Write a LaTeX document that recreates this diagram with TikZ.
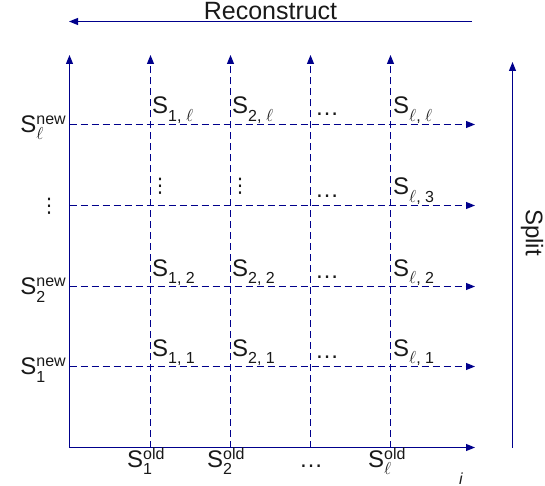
\documentclass[tikz,border=0pt]{standalone}
\usepackage{fontspec}
\setmainfont{Liberation Sans}
\newfontfamily\djv{DejaVu Sans}
\usetikzlibrary{arrows.meta}
\definecolor{axisblue}{RGB}{0,0,140}
\newcommand{\lsub}[1]{\raisebox{-7.5pt}{\fontsize{16}{16}\selectfont #1}}
\newcommand{\lsup}[1]{\raisebox{8pt}{\fontsize{16}{16}\selectfont #1}}
\newcommand{\Ssubsup}[2]{S\rlap{\lsub{#1}}\lsup{#2}}
\newcommand{\Ssub}[1]{S\lsub{#1}}
\begin{document}
\begin{tikzpicture}[x=1pt,y=-1pt,
  ax/.style={draw=axisblue, line width=1pt, -{Triangle[length=9pt,width=7pt]}},
  gridline/.style={draw=axisblue, line width=1pt, dash pattern=on 7pt off 4pt, -{Triangle[length=9pt,width=7pt]}},
  lab/.style={inner sep=0pt, font=\fontsize{24}{28}\selectfont, text=black!90},
  vd/.style={inner sep=0pt, font=\djv\fontsize{20}{24}\selectfont, text=black!90},
]
\useasboundingbox (0,0) rectangle (545,486);
% axes
\coordinate (O) at (69.5,447.5);
\coordinate (ytop) at (69.5,55);
\coordinate (xend) at (475,447.5);
\draw[ax] (O) -- (ytop);
\draw[ax] (O) -- (xend);
% columns
\foreach \n/\x in {1/150.5,2/230.5,3/310.5,4/390.5}{
  \coordinate (cb\n) at (\x,447.5);
  \coordinate (ct\n) at (\x,55);
  \draw[gridline] (cb\n) -- (ct\n);
}
% rows
\foreach \n/\y in {1/366.5,2/286.5,3/205.5,4/124.5}{
  \coordinate (rl\n) at (69.5,\y);
  \coordinate (rr\n) at (475,\y);
  \draw[gridline] (rl\n) -- (rr\n);
}
% reconstruct
\coordinate (recR) at (472,21.5);
\coordinate (recL) at (69,21.5);
\draw[ax] (recR) -- (recL);
\node[lab, font=\fontsize{25}{28}\selectfont, anchor=base] (rec) at (270.5,20) {Reconstruct};
% split
\coordinate (spB) at (512.5,447.5);
\coordinate (spT) at (512.5,62);
\draw[ax] (spB) -- (spT);
\node[lab, rotate=-90] (split) at (532,232.5) {Split};
% row labels
\node[lab, anchor=base east] (n4) at (66,132.5) {\Ssubsup{$\ell$}{new}};
\node[vd] (n3) at (49,206) {⋮};
\node[lab, anchor=base east] (n2) at (66,294.5) {\Ssubsup{2}{new}};
\node[lab, anchor=base east] (n1) at (66,374.5) {\Ssubsup{1}{new}};
% column labels
\node[lab, anchor=base west] (o1) at (127,467) {\Ssubsup{1}{old}};
\node[lab, anchor=base west] (o2) at (207,467) {\Ssubsup{2}{old}};
\node[lab, anchor=base] (o3) at (311,467) {…};
\node[lab, anchor=base west] (o4) at (368,467) {\Ssubsup{$\ell$}{old}};
\node[inner sep=0pt, font=\itshape\fontsize{16}{16}\selectfont, text=black!90, anchor=base] (iax) at (461,484) {i};
% cells
\node[lab, anchor=base west] (s14) at (152,114) {\Ssub{1, $\ell$}};
\node[lab, anchor=base west] (s24) at (232,114) {\Ssub{2, $\ell$}};
\node[lab, anchor=base west] (d4) at (315,116) {…};
\node[lab, anchor=base west] (sl4) at (393,114) {\Ssub{$\ell$, $\ell$}};
\node[vd] (v13) at (160,186) {⋮};
\node[vd] (v23) at (240,186) {⋮};
\node[lab, anchor=base west] (d3) at (315,197) {…};
\node[lab, anchor=base west] (sl3) at (393,195) {\Ssub{$\ell$, 3}};
\node[lab, anchor=base west] (s12) at (152,276) {\Ssub{1, 2}};
\node[lab, anchor=base west] (s22) at (232,276) {\Ssub{2, 2}};
\node[lab, anchor=base west] (d2) at (315,278) {…};
\node[lab, anchor=base west] (sl2) at (393,276) {\Ssub{$\ell$, 2}};
\node[lab, anchor=base west] (s11) at (152,356) {\Ssub{1, 1}};
\node[lab, anchor=base west] (s21) at (232,356) {\Ssub{2, 1}};
\node[lab, anchor=base west] (d1) at (315,358) {…};
\node[lab, anchor=base west] (sl1) at (393,356) {\Ssub{$\ell$, 1}};
\end{tikzpicture}
\end{document}
